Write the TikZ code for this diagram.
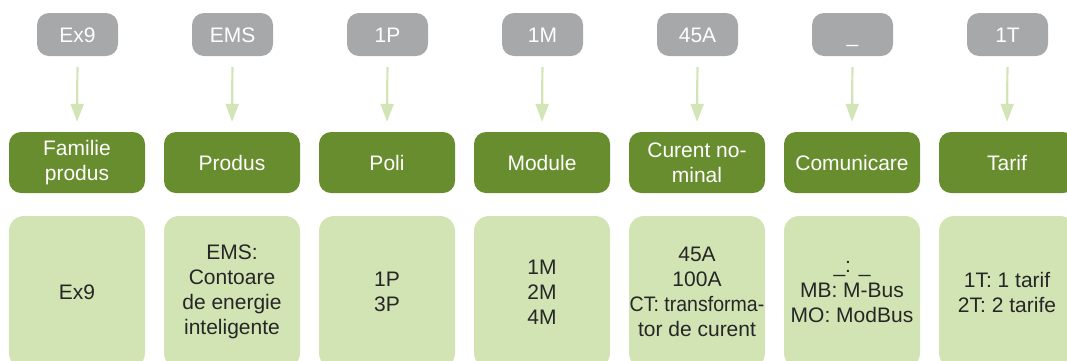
\documentclass[tikz,border=0pt]{standalone}
\usepackage{fontspec}
\setmainfont{Liberation Sans}
\usetikzlibrary{arrows.meta}
\definecolor{codegray}{HTML}{A7A8AA}
\definecolor{catgreen}{HTML}{688D2E}
\definecolor{optgreen}{HTML}{D2E4B4}
\definecolor{arrgreen}{HTML}{D3E5B6}
\definecolor{txtdark}{HTML}{262626}
\tikzset{
  codebox/.style={fill=codegray, rounded corners=12pt, minimum width=81pt, minimum height=43pt, inner sep=0pt, text=white, text height=15pt, text depth=0pt, font=\fontsize{21}{24}\selectfont},
  catbox/.style={fill=catgreen, rounded corners=12pt, minimum width=136pt, minimum height=61pt, inner sep=0pt, text=white, align=center, font=\fontsize{21}{25}\selectfont},
  optbox/.style={fill=optgreen, rounded corners=15pt, minimum width=136pt, minimum height=152pt, inner sep=0pt},
  opttext/.style={text=txtdark, align=center, font=\fontsize{21}{25}\selectfont, inner sep=0pt},
  link/.style={draw=arrgreen, line width=2.2pt, -{Triangle[width=13pt,length=18pt]}, shorten <=11pt, shorten >=10pt}
}
\begin{document}
\begin{tikzpicture}[x=1pt,y=-1pt]
\useasboundingbox (0,0) rectangle (1067,360);
\clip (0,0) rectangle (1067,360);
\foreach \i/\x/\code/\cat/\opt in {
  1/77/Ex9/{Familie\\produs}/{Ex9},
  2/232/EMS/{Produs}/{EMS:\\Contoare\\de energie\\inteligente},
  3/387/1P/{Poli}/{1P\\3P},
  4/542/1M/{Module}/{1M\\2M\\4M},
  5/697/45A/{Curent no-\\minal}/{45A\\100A\\\scalebox{0.93}[1]{CT: transforma-}\\tor de curent},
  6/852/\_/{Comunicare}/{\_: \_\\MB: M-Bus\\MO: ModBus},
  7/1007/1T/{Tarif}/{1T: 1 tarif\\2T: 2 tarife}}{
  \node[codebox] (c\i) at (\x+0.5,34.5) {\code};
  \node[catbox] (g\i) at (\x,162.5) {\cat};
  \node[optbox] (o\i) at (\x,292) {};
  \node[opttext] (t\i) at (o\i.center) {\opt};
  \draw[link] (c\i.south) -- (g\i.north);
}
\end{tikzpicture}
\end{document}
